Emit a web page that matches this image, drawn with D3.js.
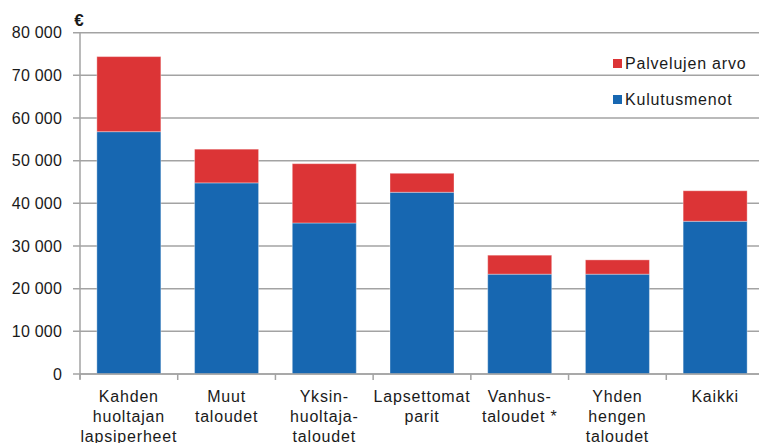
<!DOCTYPE html>
<html>
<head>
<meta charset="utf-8">
<script src="https://cdn.jsdelivr.net/npm/d3@7"></script>
<style>
  body { margin: 0; background: #fff; }
  svg text { font-family: "Liberation Sans", Arial, sans-serif; fill: #1a1a1a; }
</style>
</head>
<body>
<div id="chart"></div>
<script>
// Data.
const categories = [
  ["Kahden", "huoltajan", "lapsiperheet"],
  ["Muut", "taloudet"],
  ["Yksin-", "huoltaja-", "taloudet"],
  ["Lapsettomat", "parit"],
  ["Vanhus-", "taloudet *"],
  ["Yhden", "hengen", "taloudet"],
  ["Kaikki"]
];
const kulutusmenot = [56800, 44800, 35400, 42600, 23400, 23400, 35800];
const palvelujenArvo = [17600, 7900, 13900, 4450, 4450, 3350, 7150];
const yTicks = [0, 10000, 20000, 30000, 40000, 50000, 60000, 70000, 80000];
const seriesNames = ["Palvelujen arvo", "Kulutusmenot"];
const colors = { "Kulutusmenot": "#1767b1", "Palvelujen arvo": "#dc3436" };

const W = 759, H = 443;
const left = 80, right = 764, y0 = 374, yTop = 32.7;

const svg = d3.select("#chart").append("svg")
  .attr("width", W)
  .attr("height", H);

const keys = categories.map((c, i) => "c" + i);

const x = d3.scaleBand()
  .domain(keys)
  .range([left, right])
  .paddingInner(0.345)
  .paddingOuter(0.1725);

const y = d3.scaleLinear()
  .domain([0, 80000])
  .range([y0, yTop]);

// Gridlines
svg.append("g")
  .selectAll("line")
  .data(yTicks)
  .join("line")
  .attr("x1", left - 7)
  .attr("x2", W)
  .attr("y1", d => y(d))
  .attr("y2", d => y(d))
  .attr("stroke", "#a3a3a3")
  .attr("stroke-width", 1.5);

// Y axis line
svg.append("line")
  .attr("x1", left).attr("x2", left)
  .attr("y1", yTop).attr("y2", y0 + 5)
  .attr("stroke", "#a3a3a3")
  .attr("stroke-width", 1.5);

// Y tick labels
svg.append("g")
  .selectAll("text")
  .data(yTicks)
  .join("text")
  .attr("x", 62)
  .attr("y", d => y(d) + 5.5)
  .attr("text-anchor", "end")
  .style("font-size", "16px")
  .style("letter-spacing", "0.2px")
  .text(d => d === 0 ? "0" : d3.format(",")(d).replace(",", " "));

// Stacked bars
const rows = keys.map((k, i) => ({ key: k, "Kulutusmenot": kulutusmenot[i], "Palvelujen arvo": palvelujenArvo[i] }));
const stack = d3.stack().keys(["Kulutusmenot", "Palvelujen arvo"])(rows);

svg.append("g")
  .selectAll("g")
  .data(stack)
  .join("g")
  .attr("fill", d => colors[d.key])
  .selectAll("rect")
  .data(d => d)
  .join("rect")
  .attr("x", d => x(d.data.key))
  .attr("width", x.bandwidth())
  .attr("y", d => y(d[1]))
  .attr("height", d => y(d[0]) - y(d[1]))
  .attr("stroke", "rgba(255,255,255,0.35)")
  .attr("stroke-width", 1);

// X axis line and category ticks
svg.append("line")
  .attr("x1", left).attr("x2", W)
  .attr("y1", y0).attr("y2", y0)
  .attr("stroke", "#a3a3a3")
  .attr("stroke-width", 1.5);

svg.append("g")
  .selectAll("line")
  .data(d3.range(keys.length + 1))
  .join("line")
  .attr("x1", i => left + i * x.step())
  .attr("x2", i => left + i * x.step())
  .attr("y1", y0)
  .attr("y2", y0 + 6)
  .attr("stroke", "#a3a3a3")
  .attr("stroke-width", 1.5);

// Category labels
const labels = svg.append("g")
  .selectAll("text")
  .data(categories)
  .join("text")
  .attr("x", (d, i) => x(keys[i]) + x.bandwidth() / 2)
  .attr("y", 402)
  .attr("text-anchor", "middle")
  .style("font-size", "16px")
  .style("letter-spacing", "0.8px");

labels.selectAll("tspan")
  .data(d => d)
  .join("tspan")
  .attr("x", function () { return d3.select(this.parentNode).attr("x"); })
  .attr("dy", (d, j) => j === 0 ? 0 : 20)
  .text(d => d);

// Unit
svg.append("text")
  .attr("x", 79)
  .attr("y", 26)
  .attr("text-anchor", "middle")
  .style("font-size", "17px")
  .style("font-weight", "bold")
  .text("€");

// Legend
const legend = svg.append("g")
  .selectAll("g")
  .data(seriesNames)
  .join("g")
  .attr("transform", (d, i) => `translate(613, ${59 + i * 36})`);

legend.append("rect")
  .attr("width", 9)
  .attr("height", 9)
  .attr("fill", d => colors[d]);

legend.append("text")
  .attr("x", 12)
  .attr("y", 9.5)
  .style("font-size", "16px")
  .style("letter-spacing", "0.8px")
  .text(d => d);
</script>
</body>
</html>
